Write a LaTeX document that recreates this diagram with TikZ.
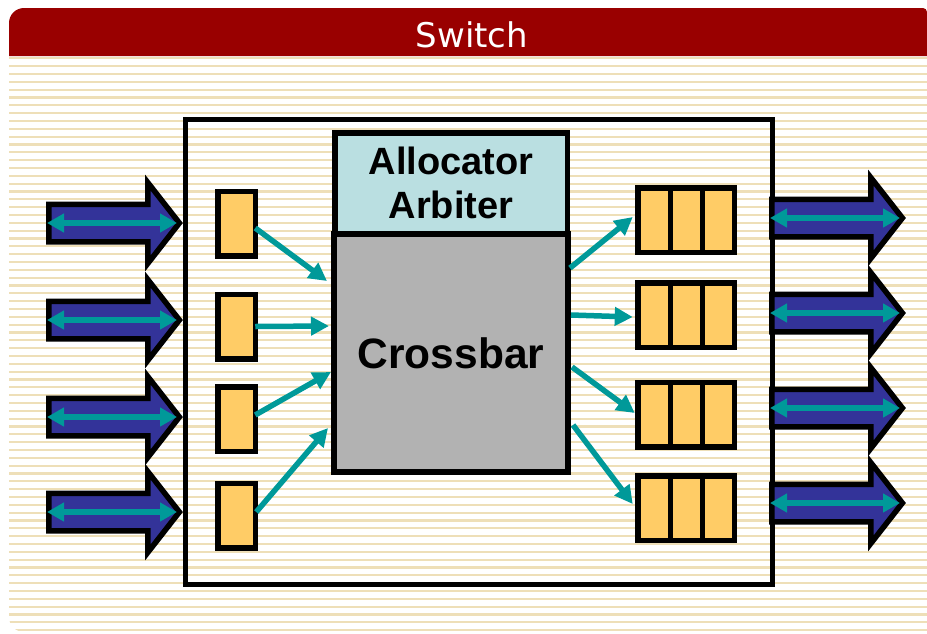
\documentclass[tikz,border=0pt]{standalone}
\usepackage{fontspec}
\setmainfont{Liberation Sans}
\newfontfamily\hdrfont{DejaVu Sans}
\usetikzlibrary{arrows.meta,calc}
\definecolor{hdrred}{HTML}{990000}
\definecolor{stripec}{HTML}{EEDFB8}
\definecolor{qfill}{HTML}{FFCC66}
\definecolor{allocfill}{HTML}{BADFE1}
\definecolor{xbarfill}{HTML}{B2B2B2}
\definecolor{blockblue}{HTML}{333399}
\definecolor{tealc}{HTML}{009999}
\tikzset{
  box/.style={draw=black, line width=5.5pt, inner sep=0pt, outer sep=0pt},
  inq/.style={box, fill=qfill, minimum width=37.5pt, minimum height=64.5pt},
  outq/.style={box, fill=qfill, minimum width=96.5pt, minimum height=64.5pt},
  divider/.style={draw=black, line width=5pt},
  flow/.style={draw=tealc, line width=5.5pt, -{Triangle[length=18pt,width=18pt]}},
  dbl/.style={draw=tealc, line width=5.5pt, {Triangle[length=17pt,width=18pt]}-{Triangle[length=17pt,width=18pt]}},
  blockarrow/.style={draw=black, fill=blockblue, line width=5.5pt, line join=miter, miter limit=10},
  stripe/.style={draw=stripec, line width=2.1pt},
}
% #1 outer left x, #2 outer tip x, #3 y, #4 name
\newcommand\blkarrow[4]{%
  \draw[blockarrow] (#1+2.75,#3-18.75) -- (#2-35.25,#3-18.75) -- (#2-35.25,#3-40.5)
     -- (#2-3.6,#3) -- (#2-35.25,#3+40.5) -- (#2-35.25,#3+18.75) -- (#1+2.75,#3+18.75) -- cycle;
  \coordinate (#4w) at (#1+1,#3);
  \coordinate (#4e) at (#2-6,#3);
  \draw[dbl] (#4w) -- (#4e);
}
\begin{document}
\begin{tikzpicture}[x=1pt,y=-1pt]
\useasboundingbox (0,0) rectangle (927,633);
% panel
\path[fill=white] (9,56) -- (927,56) -- (927,632) -- (24,632)
   arc[start angle=270,end angle=180,radius=15pt] -- cycle;
\begin{scope}
  \clip (9,56) -- (927,56) -- (927,632) -- (24,632)
     arc[start angle=270,end angle=180,radius=15pt] -- cycle;
  \foreach \i in {0,...,73} {
    \draw[stripe] (9,58.3+7.834*\i) -- (927,58.3+7.834*\i);
  }
\end{scope}
% header
\fill[hdrred] (9,56) -- (9,23) arc[start angle=180,end angle=90,radius=15pt]
   -- (923,8) arc[start angle=90,end angle=0,radius=4pt] -- (927,56) -- cycle;
\node[text=white, font=\hdrfont\fontsize{34}{40}\selectfont] (title) at (472,35) {Switch};
% switch box
\node[draw=black, line width=5pt, inner sep=0pt, outer sep=0pt,
      minimum width=587pt, minimum height=465pt] (switch) at (478.5,351.5) {};
% block arrows
\blkarrow{46}{183}{223}{la1}
\blkarrow{46}{183}{320}{la2}
\blkarrow{46}{183}{417}{la3}
\blkarrow{46}{183}{512}{la4}
\blkarrow{769}{906}{218}{ra1}
\blkarrow{769}{906}{313}{ra2}
\blkarrow{769}{906}{408}{ra3}
\blkarrow{769}{906}{503}{ra4}
% input queues
\node[inq] (iq1) at (236.5,223.5) {};
\node[inq] (iq2) at (236.5,326.5) {};
\node[inq] (iq3) at (236.5,419) {};
\node[inq] (iq4) at (236.5,515.5) {};
% output queues
\foreach \n/\y in {1/220,2/315,3/414.5,4/508} {
  \node[outq] (oq\n) at (686,\y) {};
  \draw[divider] ([xshift=-16pt]oq\n.north) -- ([xshift=-16pt]oq\n.south);
  \draw[divider] ([xshift=16pt]oq\n.north) -- ([xshift=16pt]oq\n.south);
}
% allocator and crossbar
\node[box, fill=allocfill, minimum width=232.5pt, minimum height=101.25pt,
      align=center, font=\bfseries\fontsize{38}{44}\selectfont] (alloc) at (451,183.4)
      {Allocator\\Arbiter};
\node[box, fill=xbarfill, minimum width=234pt, minimum height=238pt,
      font=\bfseries\fontsize{42.5}{50}\selectfont] (xbar) at (451,353) {Crossbar};
% flows in
\draw[flow] ([yshift=-4.5pt]iq1.east) -- ([xshift=-7pt,yshift=72pt]xbar.west);
\draw[flow] (iq2.east) -- ([xshift=-5pt,yshift=27pt]xbar.west);
\draw[flow] ([yshift=4pt]iq3.east) -- ([xshift=-3pt,yshift=-19pt]xbar.west);
\draw[flow] ([xshift=1pt,yshift=3.5pt]iq4.east) -- ([xshift=-6pt,yshift=-75pt]xbar.west);
% flows out
\draw[flow] ([xshift=2pt,yshift=85pt]xbar.east) -- ([xshift=-5pt,yshift=3pt]oq1.west);
\draw[flow] ([xshift=3pt,yshift=38pt]xbar.east) -- ([xshift=-5pt,yshift=-2pt]oq2.west);
\draw[flow] ([xshift=4pt,yshift=-14pt]xbar.east) -- ([xshift=-3pt,yshift=1.5pt]oq3.west);
\draw[flow] ([xshift=5pt,yshift=-72pt]xbar.east) -- ([xshift=-5pt,yshift=4pt]oq4.west);
\end{tikzpicture}
\end{document}
